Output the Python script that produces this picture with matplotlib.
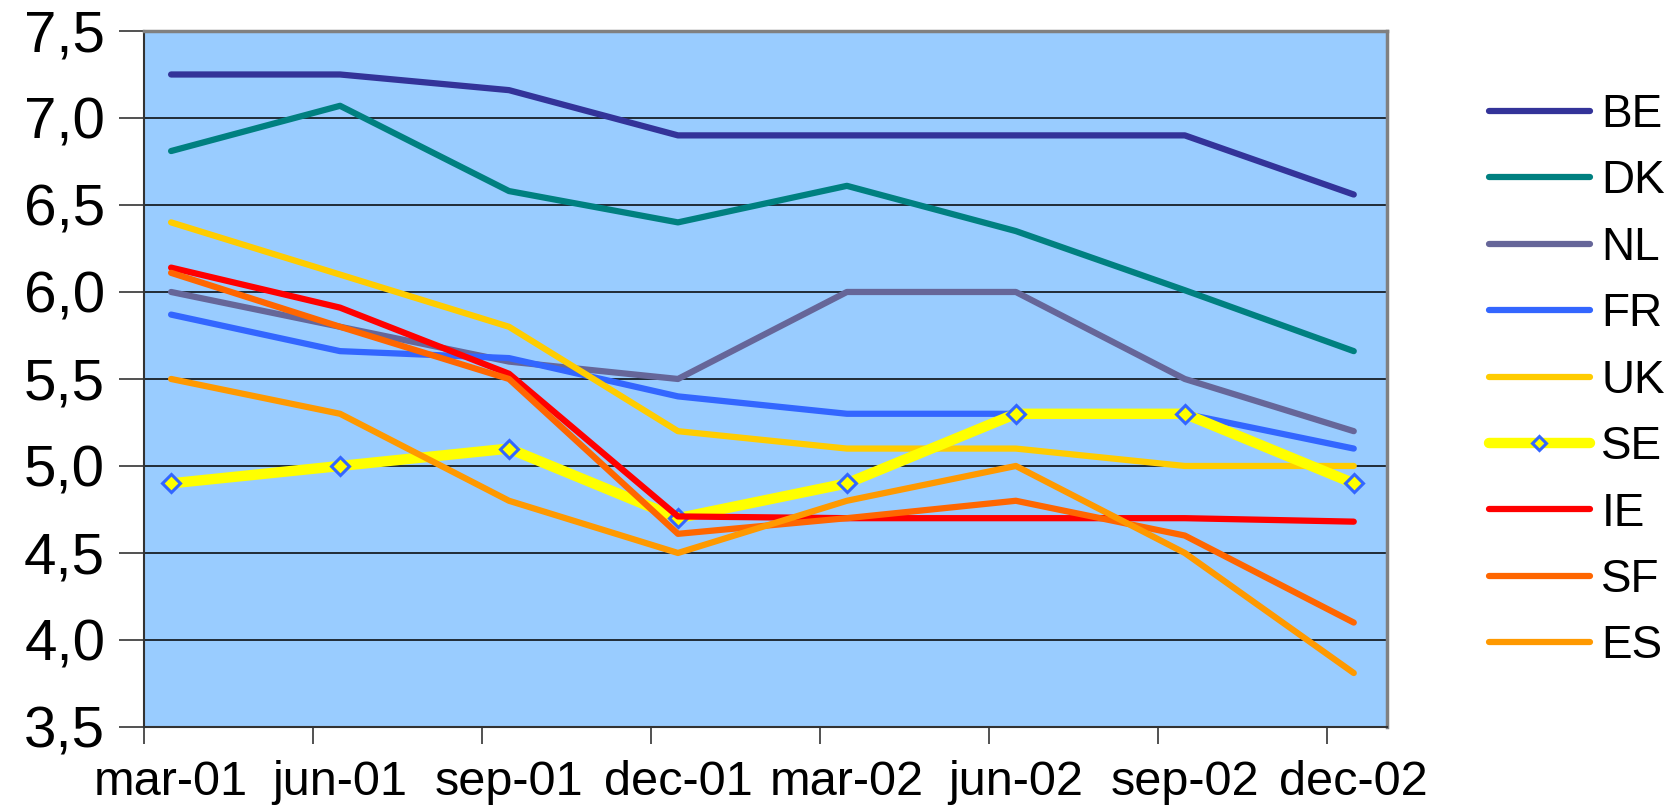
import numpy as np
import matplotlib
matplotlib.use("Agg")
import matplotlib.pyplot as plt

plt.rcParams['font.family'] = ['Liberation Sans', 'DejaVu Sans']

# quarterly data
quarters = ['mar-01', 'jun-01', 'sep-01', 'dec-01', 'mar-02', 'jun-02', 'sep-02', 'dec-02']
BE = [7.25, 7.25, 7.16, 6.90, 6.90, 6.90, 6.90, 6.56]
DK = [6.81, 7.07, 6.58, 6.40, 6.61, 6.35, 6.01, 5.66]
NL = [6.00, 5.80, 5.60, 5.50, 6.00, 6.00, 5.50, 5.20]
FR = [5.87, 5.66, 5.62, 5.40, 5.30, 5.30, 5.30, 5.10]
UK = [6.40, 6.10, 5.80, 5.20, 5.10, 5.10, 5.00, 5.00]
SE = [4.90, 5.00, 5.10, 4.70, 4.90, 5.30, 5.30, 4.90]
IE = [6.14, 5.91, 5.53, 4.71, 4.70, 4.70, 4.70, 4.68]
SF = [6.11, 5.80, 5.50, 4.61, 4.70, 4.80, 4.60, 4.10]
ES = [5.50, 5.30, 4.80, 4.50, 4.80, 5.00, 4.50, 3.81]

y_ticks = [3.5, 4.0, 4.5, 5.0, 5.5, 6.0, 6.5, 7.0, 7.5]
y_labels = ['3,5', '4,0', '4,5', '5,0', '5,5', '6,0', '6,5', '7,0', '7,5']

fig = plt.figure(figsize=(16.77, 8.09), dpi=100)
ax = fig.add_axes([0.0859, 0.1014, 0.741, 0.8603])
ax.set_facecolor('#99CCFF')

x = np.arange(len(quarters))
lw = 4.5
ax.plot(x, BE, color='#333399', lw=lw, label='BE', solid_capstyle='round')
ax.plot(x, DK, color='#008080', lw=lw, label='DK', solid_capstyle='round')
ax.plot(x, NL, color='#666699', lw=lw, label='NL', solid_capstyle='round')
ax.plot(x, FR, color='#3366FF', lw=lw, label='FR', solid_capstyle='round')
ax.plot(x, UK, color='#FFCC00', lw=lw, label='UK', solid_capstyle='round')
ax.plot(x, SE, color='#FFFF00', lw=7.5, label='SE', solid_capstyle='round',
        marker='D', markersize=9, markerfacecolor='#FFFF00',
        markeredgecolor='#3366FF', markeredgewidth=2.2)
ax.plot(x, IE, color='#FF0000', lw=lw, label='IE', solid_capstyle='round')
ax.plot(x, SF, color='#FF6600', lw=lw, label='SF', solid_capstyle='round')
ax.plot(x, ES, color='#FF9900', lw=lw, label='ES', solid_capstyle='round')

ax.set_ylim(3.5, 7.5)
ax.set_xlim(-0.16, 7.195)
ax.set_yticks(y_ticks)
ax.set_yticklabels(y_labels, fontsize=42)
for yv in y_ticks[1:-1]:
    ax.axhline(yv, color='black', lw=1.1, zorder=1)

# category ticks sit between data points, labels under the points
ax.set_xticks(x - 0.16)
ax.set_xticklabels([])
ax.set_xticks(x, minor=True)
ax.set_xticklabels(quarters, minor=True, fontsize=35)
ax.tick_params(axis='x', which='minor', length=0, pad=24)
ax.tick_params(axis='x', which='major', length=12, width=1.2, color='#333333')
ax.tick_params(axis='y', length=18, width=1.2, color='#333333', pad=10)

for s in ['top', 'right']:
    ax.spines[s].set_color('#808080')
    ax.spines[s].set_linewidth(2.5)
for s in ['left', 'bottom']:
    ax.spines[s].set_color('#333333')
    ax.spines[s].set_linewidth(1.5)

leg = ax.legend(loc='upper left', bbox_to_anchor=(0.877, 0.908),
                bbox_transform=fig.transFigure, frameon=False, fontsize=33,
                handlelength=2.2, handletextpad=0.25, labelspacing=0.49,
                borderaxespad=0, markerscale=0.8)

fig.savefig('out.png', dpi=100)
